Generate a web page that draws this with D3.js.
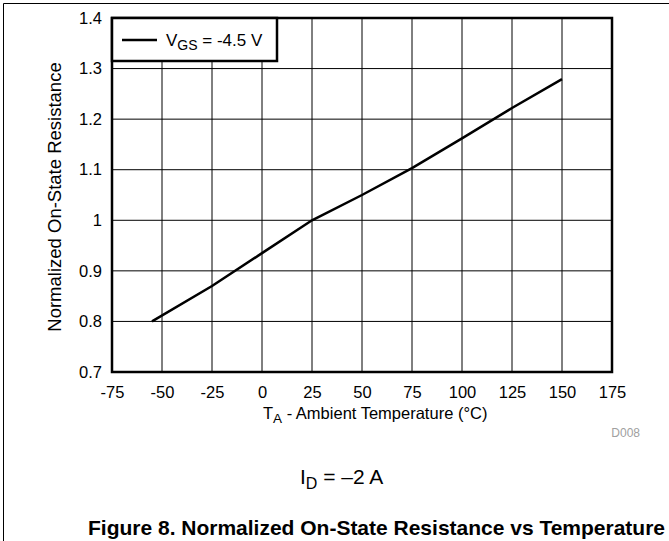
<!DOCTYPE html>
<html>
<head>
<meta charset="utf-8">
<script src="https://cdn.jsdelivr.net/npm/d3@7"></script>
<style>
  body { margin: 0; background: #fff; }
  svg { font-family: "Liberation Sans", Arial, sans-serif; }
</style>
</head>
<body>
<div id="chart"></div>
<script>
// data
const temps = [-55, -25, 0, 25, 50, 75, 100, 125, 150];
const resistance = [0.80, 0.87, 0.935, 1.0, 1.05, 1.103, 1.162, 1.222, 1.279];
const xTicks = [-75, -50, -25, 0, 25, 50, 75, 100, 125, 150, 175];
const yTicks = [0.7, 0.8, 0.9, 1.0, 1.1, 1.2, 1.3, 1.4];

const W = 669, H = 541;
const margin = {top: 18, right: 57, bottom: 169, left: 112};
const width = W - margin.left - margin.right;
const height = H - margin.top - margin.bottom;

const svg = d3.select("#chart").append("svg")
    .attr("width", W)
    .attr("height", H);

// outer frame (left and top only visible)
svg.append("path")
    .attr("d", `M3.5,${H} L3.5,3.5 L${W},3.5`)
    .attr("fill", "none")
    .attr("stroke", "#000")
    .attr("stroke-width", 1);

const g = svg.append("g")
    .attr("transform", `translate(${margin.left},${margin.top})`);

const x = d3.scaleLinear().domain([-75, 175]).range([0, width]);
const y = d3.scaleLinear().domain([0.7, 1.4]).range([height, 0]);

// grid
g.selectAll(".vgrid")
    .data(xTicks)
    .enter().append("line")
    .attr("x1", d => x(d)).attr("x2", d => x(d))
    .attr("y1", 0).attr("y2", height)
    .attr("stroke", "#000").attr("stroke-width", 1);

g.selectAll(".hgrid")
    .data(yTicks)
    .enter().append("line")
    .attr("x1", 0).attr("x2", width)
    .attr("y1", d => y(d)).attr("y2", d => y(d))
    .attr("stroke", "#000").attr("stroke-width", 1);

// tick labels
const xAxis = g.append("g")
    .attr("transform", `translate(0,${height})`)
    .call(d3.axisBottom(x).tickValues(xTicks).tickSize(0).tickPadding(14).tickFormat(d => d));
xAxis.select(".domain").remove();
xAxis.selectAll("text").attr("font-size", 16.5).attr("fill", "#000").attr("font-family", "Liberation Sans, Arial, sans-serif");

const yAxis = g.append("g")
    .call(d3.axisLeft(y).tickValues(yTicks).tickSize(0).tickPadding(10).tickFormat(d => d3.format("")(+d.toFixed(1))));
yAxis.select(".domain").remove();
yAxis.selectAll("text").attr("font-size", 16.5).attr("fill", "#000").attr("font-family", "Liberation Sans, Arial, sans-serif");

// data line
const line = d3.line()
    .x((d, i) => x(temps[i]))
    .y(d => y(d));

g.append("path")
    .datum(resistance)
    .attr("d", line)
    .attr("fill", "none")
    .attr("stroke", "#000")
    .attr("stroke-width", 2.5);

// frame
g.append("rect")
    .attr("width", width).attr("height", height)
    .attr("fill", "none")
    .attr("stroke", "#000")
    .attr("stroke-width", 2.5);

// legend
const leg = g.append("g");
leg.append("rect")
    .attr("x", 0).attr("y", 0)
    .attr("width", 165).attr("height", 43)
    .attr("fill", "#fff")
    .attr("stroke", "#000")
    .attr("stroke-width", 2.5);
leg.append("line")
    .attr("x1", 10).attr("x2", 45)
    .attr("y1", 22).attr("y2", 22)
    .attr("stroke", "#000").attr("stroke-width", 2.5);
const lt = leg.append("text")
    .attr("x", 54).attr("y", 28)
    .attr("font-size", 17);
lt.append("tspan").text("V");
lt.append("tspan").attr("font-size", 14).attr("dy", 4).text("GS");
lt.append("tspan").attr("dy", -4).text(" = -4.5 V");

// axis titles
svg.append("text")
    .attr("transform", `translate(61,${margin.top + height / 2 + 2}) rotate(-90)`)
    .attr("text-anchor", "middle")
    .attr("font-size", 18.5)
    .text("Normalized On-State Resistance");

const xt = svg.append("text")
    .attr("x", 263)
    .attr("y", 419)
    .attr("font-size", 16.5);
xt.append("tspan").text("T");
xt.append("tspan").attr("font-size", 13.5).attr("dy", 4).text("A");
xt.append("tspan").attr("dy", -4).text(" - Ambient Temperature (°C)");

svg.append("text")
    .attr("x", 640).attr("y", 437)
    .attr("text-anchor", "end")
    .attr("font-size", 12)
    .attr("fill", "#a0a0a0")
    .text("D008");

const id = svg.append("text")
    .attr("x", 300)
    .attr("y", 484)
    .attr("font-size", 21);
id.append("tspan").text("I");
id.append("tspan").attr("font-size", 16).attr("dy", 5).text("D");
id.append("tspan").attr("dy", -5).text(" = –2 A");

svg.append("text")
    .attr("x", 88)
    .attr("y", 535)
    .attr("font-size", 21)
    .attr("font-weight", "bold")
    .attr("textLength", 577)
    .text("Figure 8. Normalized On-State Resistance vs Temperature");
</script>
</body>
</html>
